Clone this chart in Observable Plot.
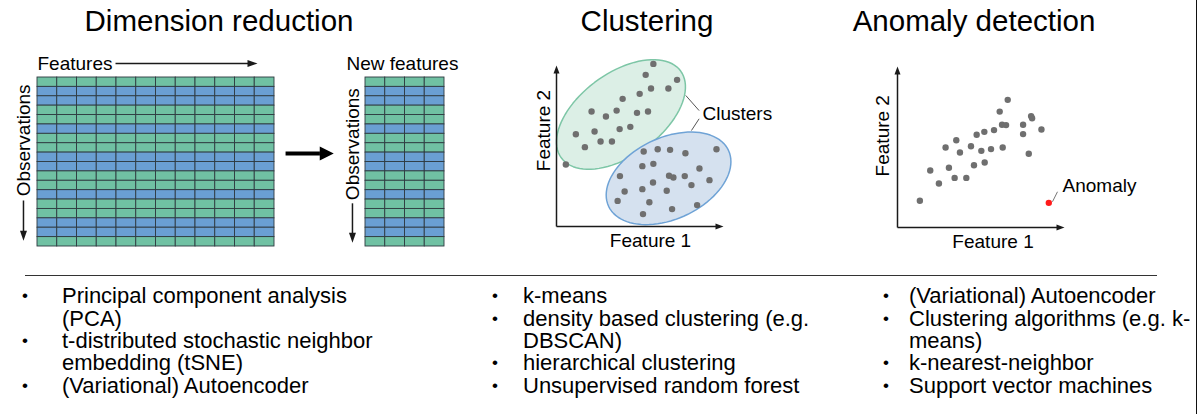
<!DOCTYPE html>
<html><head><meta charset="utf-8">
<script src="https://cdn.jsdelivr.net/npm/d3@7"></script>
<script src="https://cdn.jsdelivr.net/npm/@observablehq/plot@0.6"></script>
<style>
html,body{margin:0;padding:0;background:#fff;}
#root{position:relative;width:1199px;height:414px;overflow:hidden;font-family:"Liberation Sans",Arial,sans-serif;color:#000;}
.title{position:absolute;font-size:29.5px;line-height:29.5px;white-space:nowrap;transform:translateX(-50%);}
.line{position:absolute;font-size:22px;line-height:22.4px;height:22.4px;white-space:nowrap;}
.bullet{font-size:17px;}
svg{overflow:visible;}
</style></head><body><div id="root"></div>
<script>
// ---------------- data ----------------
const titles = ["Dimension reduction", "Clustering", "Anomaly detection"];
const rowGroups = ["g","b","b","g","g","b","g","g","b","b","g","g","b","g","g","b","b","g"];
const nFeatures = 12;
const nNewFeatures = 4;
const matrixLabels = ["Features", "New features", "Observations"];

const clusterAx = [5.80,5.34,7.22,5.66,6.70,4.98,3.96,2.10,3.60,4.82,5.48,2.96,1.16,2.28,3.78,4.42,2.64,3.32,1.70,0.56];
const clusterAy = [10.10,9.42,9.11,8.57,8.57,8.24,7.93,7.14,7.20,7.06,7.14,6.83,5.73,5.90,6.05,6.19,5.28,5.28,4.93,3.85];
const clusterBx = [5.22,6.06,6.80,7.72,9.58,5.14,5.80,8.56,3.80,6.74,7.00,7.68,5.78,9.16,8.08,4.08,5.14,6.60,3.66,5.56,8.42,6.92,5.18];
const clusterBy = [4.66,4.80,4.76,4.55,4.80,3.75,3.89,3.60,3.13,3.15,3.04,3.13,2.73,2.88,2.57,2.17,2.32,2.22,1.59,1.51,1.33,1.08,0.77];
// cluster ellipses: centre, semi-axes (feature-1 units), angle (deg)
const ellipseNames = ["A","B"];
const ellipseCx = [3.86, 6.71];
const ellipseCy = [6.96, 2.99];
const ellipseA = [4.42, 3.96];
const ellipseB = [2.48, 2.44];
const ellipseAngle = [36, 25];

const normalX = [6.60,6.12,8.00,8.06,6.26,6.50,7.52,8.62,5.78,5.20,4.74,7.52,3.52,2.88,4.40,5.02,5.60,6.30,3.74,7.86,5.22,4.58,3.08,1.96,3.42,4.12,2.48,1.34];
const normalY = [7.93,7.20,6.92,6.79,6.38,6.36,6.38,6.09,6.05,5.94,5.76,5.80,5.42,4.97,5.05,4.76,4.87,4.97,4.66,4.58,4.04,3.87,3.71,3.54,3.08,3.08,2.73,1.66];
const anomalyX = [9.06];
const anomalyY = [1.53];
const axisLabels = ["Feature 1", "Feature 2"];
const annotations = ["Clusters", "Anomaly"];

const methods = [
  [["Principal component analysis","(PCA)"],["t-distributed stochastic neighbor","embedding (tSNE)"],["(Variational) Autoencoder"]],
  [["k-means"],["density based clustering (e.g.","DBSCAN)"],["hierarchical clustering"],["Unsupervised random forest"]],
  [["(Variational) Autoencoder"],["Clustering algorithms (e.g. k-","means)"],["k-nearest-neighbor"],["Support vector machines"]]
];

// ---------------- style ----------------
const FONT = "Liberation Sans, Arial, sans-serif";
const GREEN = "#70c1a3", BLUE = "#6a9fd3", GRID = "#2e3a40";
const INK = "#1a1a1a", DOT = "#6f6f6f";
const plotStyle = {fontFamily: FONT, background: "transparent", overflow: "visible", color: "#000"};
const root = document.getElementById("root");
function place(el, left, top) { el.style.position = "absolute"; el.style.left = left + "px"; el.style.top = top + "px"; root.appendChild(el); }
function head(L, W, dir) {
  return {draw(ctx) {
    if (dir === "right") { ctx.moveTo(0,0); ctx.lineTo(-L,-W/2); ctx.lineTo(-L,W/2); }
    else if (dir === "down") { ctx.moveTo(0,0); ctx.lineTo(-W/2,-L); ctx.lineTo(W/2,-L); }
    else { ctx.moveTo(0,0); ctx.lineTo(-W/2,L); ctx.lineTo(W/2,L); }
    ctx.closePath();
  }};
}
const one = [0];

// ---------------- titles ----------------
const titleX = [219, 647, 974];
titles.forEach((t, i) => { const d = document.createElement("div"); d.className = "title"; d.textContent = t; place(d, titleX[i], 6); });

// ---------------- matrices ----------------
function cells(n) { return rowGroups.flatMap((g, r) => d3.range(n).map(c => ({r, c, g}))); }
const rowScale = {domain: [0, rowGroups.length], reverse: true, axis: null};
const colorScale = {domain: ["g", "b"], range: [GREEN, BLUE]};

const plotA = Plot.plot({
  width: 340, height: 220, marginLeft: 37, marginRight: 66, marginTop: 37, marginBottom: 14,
  x: {domain: [0, nFeatures], axis: null}, y: rowScale, color: colorScale, style: plotStyle,
  marks: [
    Plot.rect(cells(nFeatures), {x1: "c", x2: d => d.c + 1, y1: "r", y2: d => d.r + 1, fill: "g", stroke: GRID, strokeWidth: 0.9}),
    Plot.text(one, {x: 0, y: -1.49, text: () => matrixLabels[0], textAnchor: "start", fontSize: 19}),
    Plot.link(one, {x1: 3.95, x2: 10.7, y1: -1.49, y2: -1.49, stroke: INK, strokeWidth: 1.5}),
    Plot.dot(one, {x: 11.14, y: -1.49, r: 1, symbol: head(10, 7, "right"), fill: INK}),
    Plot.text(one, {x: -0.71, y: 6.7, rotate: -90, text: () => matrixLabels[2], fontSize: 19}),
    Plot.link(one, {x1: -0.71, x2: -0.71, y1: 13.1, y2: 16.6, stroke: INK, strokeWidth: 1.5}),
    Plot.dot(one, {x: -0.71, y: 17.4, r: 1, symbol: head(10, 7, "down"), fill: INK}),
    Plot.link(one, {x1: 12.56, x2: 14.3, y1: 8.1, y2: 8.1, stroke: "#000", strokeWidth: 4}),
    Plot.dot(one, {x: 15.0, y: 8.1, r: 1, symbol: head(14, 14, "right"), fill: "#000"})
  ]
});
place(plotA, 0, 40);

const plotB = Plot.plot({
  width: 180, height: 220, marginLeft: 75, marginRight: 26, marginTop: 37, marginBottom: 14,
  x: {domain: [0, nNewFeatures], axis: null}, y: rowScale, color: colorScale, style: plotStyle,
  marks: [
    Plot.rect(cells(nNewFeatures), {x1: "c", x2: d => d.c + 1, y1: "r", y2: d => d.r + 1, fill: "g", stroke: GRID, strokeWidth: 0.9}),
    Plot.text(one, {x: 1.87, y: -1.49, text: () => matrixLabels[1], fontSize: 19}),
    Plot.text(one, {x: -0.66, y: 7.1, rotate: -90, text: () => matrixLabels[2], fontSize: 19}),
    Plot.link(one, {x1: -0.66, x2: -0.66, y1: 13.4, y2: 16.8, stroke: INK, strokeWidth: 1.5}),
    Plot.dot(one, {x: -0.66, y: 17.6, r: 1, symbol: head(10, 7, "down"), fill: INK})
  ]
});
place(plotB, 290, 40);

// ---------------- scatter panels ----------------
const ASPECT = (167 / 10) / (161 / 10);
function ellipse(i) {
  const th = ellipseAngle[i] * Math.PI / 180;
  return d3.range(0, 360, 4).map(t => {
    const a = t * Math.PI / 180;
    return {x: ellipseCx[i] + ellipseA[i] * Math.cos(a) * Math.cos(th) - ellipseB[i] * Math.sin(a) * Math.sin(th),
            y: ellipseCy[i] + (ellipseA[i] * Math.cos(a) * Math.sin(th) + ellipseB[i] * Math.sin(a) * Math.cos(th)) * ASPECT};
  });
}
function axesMarks(fx, fy) {
  return [
    Plot.link(one, {x1: 0, y1: 0, x2: 9.6, y2: 0, stroke: INK, strokeWidth: 1.5}),
    Plot.link(one, {x1: 0, y1: 0, x2: 0, y2: 9.6, stroke: INK, strokeWidth: 1.5}),
    Plot.dot(one, {x: 10, y: 0, r: 1, symbol: head(8, 6, "right"), fill: INK}),
    Plot.dot(one, {x: 0, y: 10, r: 1, symbol: head(8, 6, "up"), fill: INK}),
    Plot.text(one, {x: fx[0], y: fx[1], text: () => axisLabels[0], fontSize: 19}),
    Plot.text(one, {x: fy[0], y: fy[1], rotate: -90, text: () => axisLabels[1], fontSize: 19})
  ];
}
const pts = (xs, ys) => xs.map((x, i) => ({x, y: ys[i]}));

const plotC = Plot.plot({
  width: 290, height: 200, marginLeft: 46, marginRight: 77, marginTop: 15, marginBottom: 24,
  x: {domain: [0, 10], axis: null}, y: {domain: [0, 10], axis: null}, style: plotStyle,
  marks: [
    Plot.line(ellipse(0), {x: "x", y: "y", curve: "linear-closed", fill: "#dcefe6", stroke: "#7dc6a6", strokeWidth: 1.5}),
    Plot.line(ellipse(1), {x: "x", y: "y", curve: "linear-closed", fill: "#d5e1ef", stroke: "#6fa3d6", strokeWidth: 1.5}),
    ...axesMarks([5.63, -0.87], [-0.78, 5.96]),
    Plot.dot(pts(clusterAx, clusterAy), {x: "x", y: "y", r: 3.2, fill: DOT}),
    Plot.dot(pts(clusterBx, clusterBy), {x: "x", y: "y", r: 3.2, fill: DOT}),
    Plot.link(one, {x1: 7.74, y1: 8.14, x2: 8.54, y2: 7.20, stroke: "#555", strokeWidth: 1}),
    Plot.link(one, {x1: 8.08, y1: 5.96, x2: 8.54, y2: 6.69, stroke: "#555", strokeWidth: 1}),
    Plot.text(one, {x: 8.74, y: 7.0, text: () => annotations[0], textAnchor: "start", fontSize: 19})
  ]
});
place(plotC, 510, 50);

const plotD = Plot.plot({
  width: 290, height: 200, marginLeft: 37, marginRight: 86, marginTop: 16, marginBottom: 23,
  x: {domain: [0, 10], axis: null}, y: {domain: [0, 10], axis: null}, style: plotStyle,
  marks: [
    ...axesMarks([5.72, -0.89], [-0.86, 5.7]),
    Plot.dot(pts(normalX, normalY), {x: "x", y: "y", r: 3.2, fill: DOT}),
    Plot.dot(pts(anomalyX, anomalyY), {x: "x", y: "y", r: 3.2, fill: "#ff1a1a"}),
    Plot.link(one, {x1: 9.28, y1: 1.60, x2: 9.58, y2: 2.22, stroke: "#777", strokeWidth: 1}),
    Plot.text(one, {x: 9.88, y: 2.59, text: () => annotations[1], textAnchor: "start", fontSize: 19})
  ]
});
place(plotD, 860, 50);

// ---------------- separator, border ----------------
const sep = document.createElement("div");
sep.style.cssText = "width:1132px;height:0;border-top:1.5px solid #333;";
place(sep, 25, 275);
const border = document.createElement("div");
border.style.cssText = "width:0;height:414px;border-left:1.5px solid #111;";
place(border, 1196, 0);

// ---------------- method lists ----------------
const bulletX = [25, 495, 886];
const textX = [62, 523, 909];
methods.forEach((items, col) => {
  let line = 0;
  items.forEach(item => {
    item.forEach((t, k) => {
      const top = 285.2 + line * 22.4;
      if (k === 0) {
        const b = document.createElement("div"); b.className = "line bullet"; b.textContent = "•";
        b.style.transform = "translateX(-50%)"; place(b, bulletX[col], top);
      }
      const d = document.createElement("div"); d.className = "line"; d.textContent = t; place(d, textX[col], top);
      line++;
    });
  });
});
</script></body></html>
